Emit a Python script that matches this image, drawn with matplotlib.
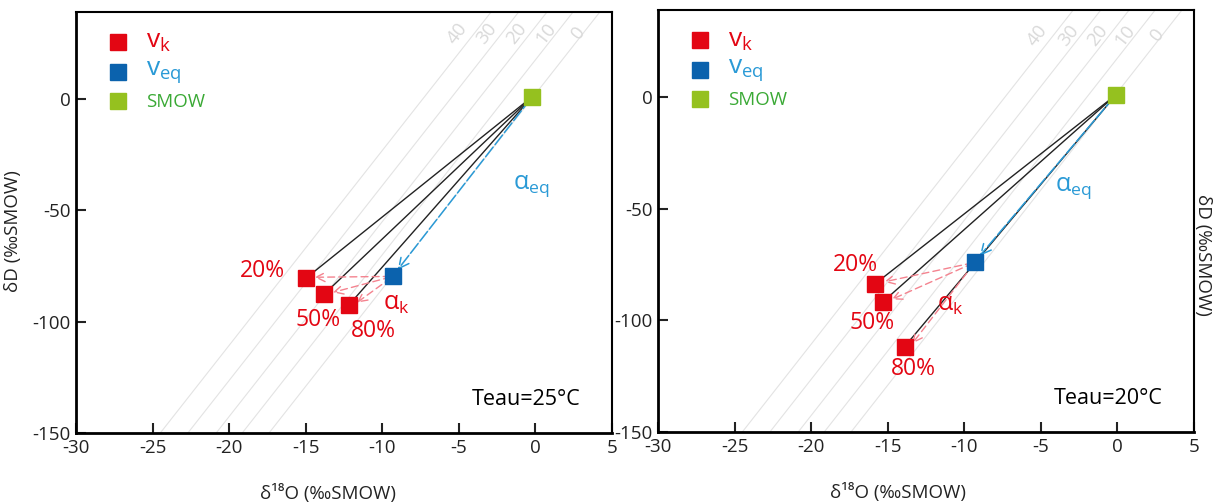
import numpy as np
import matplotlib.pyplot as plt

plt.rcParams['font.family'] = ['Open Sans', 'DejaVu Sans']
plt.rcParams['axes.unicode_minus'] = False
plt.rcParams['mathtext.default'] = 'regular'

# donnees (delta18O, deltaD)
smow = [(-0.2, 1.0), (-0.1, 1.0)]
veq = [(-9.3, -79.7), (-9.3, -74.0)]
vk_x = [[-15.0, -13.8, -12.2], [-15.8, -15.3, -13.9]]
vk_y = [[-80.6, -87.7, -92.7], [-83.5, -91.6, -111.8]]
humidite = ['20%', '50%', '80%']
teau = ['Teau=25°C', 'Teau=20°C']

# droites d'exces en deuterium (pente, abscisse a deltaD=0)
dexcess = ['0', '10', '20', '30', '40']
pente = 8.75
dex_x0 = [-0.25, -2.0, -3.7, -5.55, -7.35]

# position des etiquettes (donnees)
lab_pct_x = [[-17.8, -14.2, -10.6], [-17.1, -16.0, -13.3]]
lab_pct_y = [[-77.4, -99.5, -104.0], [-75.2, -101.0, -121.8]]
lab_ak = [(-9.1, -92.0), (-10.9, -93.0)]
lab_aeq = [(-0.3, -39.0), (-2.85, -40.5)]
lab_dex_x = [[2.8, 0.7, -1.24, -3.2, -5.1], [2.6, 0.5, -1.3, -3.2, -5.2]]
lab_dex_y = [29.5, 27.8]

rouge = '#e30613'
rouge_clair = '#f4838f'
bleu = '#0b62ad'
bleu_txt = '#2a9ad6'
vert = '#95c11f'
vert_txt = '#3aa935'
gris = '#e3e3e3'

fig = plt.figure(figsize=(12.23, 5.04), dpi=100)
ax1 = fig.add_axes([0.0621, 0.1409, 0.4383, 0.8353])
ax2 = fig.add_axes([0.538, 0.1429, 0.4383, 0.837])

for i, ax in enumerate([ax1, ax2]):
    ax.set_xlim(-30, 4.85)
    ax.set_ylim(-150, 39)
    ax.set_xticks([-30, -25, -20, -15, -10, -5, 0, 5])
    ax.set_yticks([-150, -100, -50, 0])
    ax.tick_params(direction='in', length=7, width=1.5, labelsize=13.5, colors='#222222', pad=4)
    for s in ['left', 'bottom']:
        ax.spines[s].set_linewidth(2)
    for s in ['top', 'right']:
        ax.spines[s].set_linewidth(1.5)

    # droites d'exces
    for j in range(len(dexcess)):
        ax.axline((dex_x0[j], 0), slope=pente, color=gris, lw=0.8, zorder=1)
        ax.text(lab_dex_x[i][j], lab_dex_y[i], dexcess[j], color='#d9d9d9', fontsize=13.5,
                rotation=52, ha='center', va='center', zorder=1)

    sx, sy = smow[i]
    bx, by = veq[i]

    # lignes noires SMOW -> vk
    for k in range(3):
        ax.plot([sx, vk_x[i][k]], [sy, vk_y[i][k]], color='#222222', lw=1, zorder=3)

    # fleche alpha_eq
    ax.annotate('', xy=(bx + 0.2, by + 2), xytext=(sx, sy),
                arrowprops=dict(arrowstyle='->', color=bleu_txt, lw=1.1, linestyle=(0, (8, 2)),
                                mutation_scale=18), zorder=4)

    # fleches alpha_k
    for k in range(3):
        ax.annotate('', xy=(vk_x[i][k] + 0.4, vk_y[i][k] + 0.5), xytext=(bx, by),
                    arrowprops=dict(arrowstyle='->', color=rouge_clair, lw=1, linestyle=(0, (5, 3)),
                                    mutation_scale=16), zorder=4)

    ax.plot(vk_x[i], vk_y[i], 's', color=rouge, ms=12, zorder=5)
    ax.plot(bx, by, 's', color=bleu, ms=12, zorder=5)
    ax.plot(sx, sy, 's', color=vert, ms=12, zorder=5)

    for k in range(3):
        ax.text(lab_pct_x[i][k], lab_pct_y[i][k], humidite[k], color=rouge, fontsize=16.5,
                ha='center', va='center', zorder=6)
    ax.text(lab_ak[i][0], lab_ak[i][1], r'$\mathregular{α_k}$', color=rouge, fontsize=18,
            ha='center', va='center')
    ax.text(lab_aeq[i][0], lab_aeq[i][1], r'$\mathregular{α_{eq}}$', color=bleu_txt, fontsize=18,
            ha='center', va='center')
    ax.text(0.84, 0.08, teau[i], transform=ax.transAxes, fontsize=15.5, ha='center', va='center')

    # legende manuelle
    ax.plot(0.079, 0.929, 's', color=rouge, ms=11, transform=ax.transAxes)
    ax.plot(0.079, 0.858, 's', color=bleu, ms=11, transform=ax.transAxes)
    ax.plot(0.079, 0.789, 's', color=vert, ms=11, transform=ax.transAxes)
    ax.text(0.13, 0.929, r'$\mathregular{v_k}$', color=rouge, fontsize=19, transform=ax.transAxes, va='center')
    ax.text(0.13, 0.858, r'$\mathregular{v_{eq}}$', color=bleu_txt, fontsize=19, transform=ax.transAxes, va='center')
    ax.text(0.13, 0.786, 'SMOW', color=vert_txt, fontsize=13.5, transform=ax.transAxes, va='center')

    ax.set_xlabel('δ¹⁸O (‰SMOW)', fontsize=13.5, color='#222222')

ax1.xaxis.set_label_coords(0.47, -0.12)
ax2.xaxis.set_label_coords(0.448, -0.12)
ax1.set_ylabel('δD (‰SMOW)', fontsize=13.5, color='#222222')
ax1.yaxis.set_label_coords(-0.1, 0.48)
ax2.set_ylabel('δD (‰SMOW)', fontsize=13.5, color='#222222', rotation=-90, va='center')
ax2.yaxis.set_label_position('right')
ax2.yaxis.set_label_coords(1.034, 0.42)

fig.savefig('out.png', dpi=100)
